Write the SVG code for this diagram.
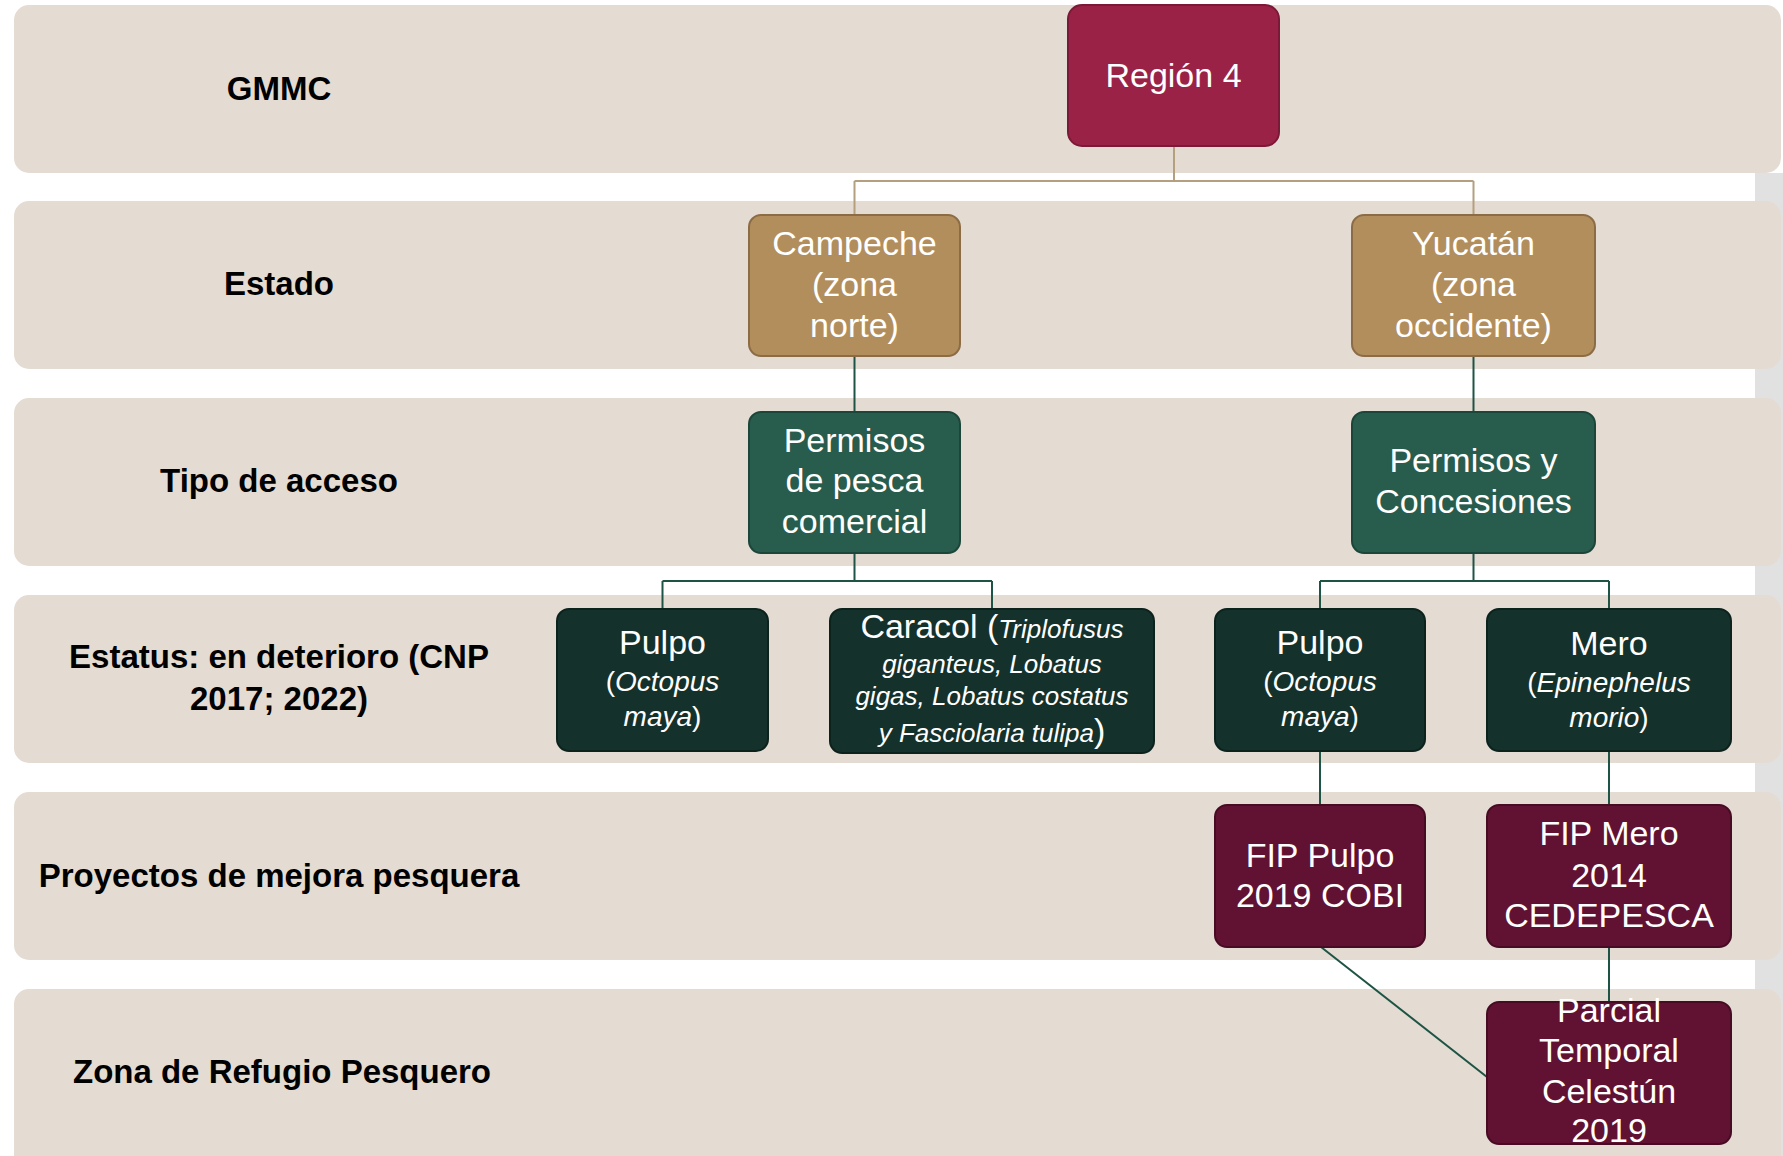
<svg xmlns="http://www.w3.org/2000/svg" width="1783" height="1156" viewBox="0 0 1783 1156">
<style>
.band{fill:#E4DBD2}
.lbl{font-family:"Liberation Sans",Arial,sans-serif;font-weight:bold;font-size:33px;fill:#000;text-anchor:middle}
.t{font-family:"Liberation Sans",Arial,sans-serif;font-size:34px;fill:#fff;text-anchor:middle}
.t.s28,.s28{font-size:28px}
.t.s26,.s26{font-size:26px}
.i{font-style:italic}
.reg{fill:#9B2247;stroke:#7A1A38;stroke-width:2}
.tan{fill:#B28E5C;stroke:#8C6C44;stroke-width:2}
.grn{fill:#285C4D;stroke:#1C463A;stroke-width:2}
.dk{fill:#15312B;stroke:#0C221D;stroke-width:2}
.gd{fill:#611232;stroke:#470B23;stroke-width:2}
.ct{fill:none;stroke:#B4A07F;stroke-width:2}
.cg{fill:none;stroke:#1E5445;stroke-width:2}
</style>
<rect x="0" y="0" width="1783" height="1156" fill="#fff"/>
<rect x="1755" y="173" width="28" height="983" fill="#E1E1E1"/>
<g id="bands">
<rect class="band" x="14" y="5" width="1767" height="168" rx="15"/>
<rect class="band" x="14" y="201" width="1767" height="168" rx="15"/>
<rect class="band" x="14" y="398" width="1767" height="168" rx="15"/>
<rect class="band" x="14" y="595" width="1767" height="168" rx="15"/>
<rect class="band" x="14" y="792" width="1767" height="168" rx="15"/>
<rect class="band" x="14" y="989" width="1767" height="180" rx="15"/>
</g>
<g id="labels">
<text class="lbl" x="279" y="100">GMMC</text>
<text class="lbl" x="279" y="295">Estado</text>
<text class="lbl" x="279" y="492">Tipo de acceso</text>
<text class="lbl" x="279" y="668">Estatus: en deterioro (CNP</text>
<text class="lbl" x="279" y="710">2017; 2022)</text>
<text class="lbl" x="279" y="887">Proyectos de mejora pesquera</text>
<text class="lbl" x="282" y="1083">Zona de Refugio Pesquero</text>
</g>
<g id="connectors">
<path class="ct" d="M1174 146V181M854.5 181H1473.5M854.5 181V215M1473.5 181V215"/>
<path class="cg" d="M854.5 356V412M1473.5 356V412"/>
<path class="cg" d="M854.5 553V581M662.5 581H992M662.5 581V609M992 581V609"/>
<path class="cg" d="M1473.5 553V581M1320 581H1609M1320 581V609M1609 581V609"/>
<path class="cg" d="M1320 751V805M1609 751V805M1609 947V1002M1321 947L1487 1077"/>
</g>
<g id="region4">
<rect class="reg" x="1068" y="5" width="211" height="141" rx="14"/>
<text class="t" x="1173.5" y="87">Región 4</text>
</g>
<g id="campeche">
<rect class="tan" x="749" y="215" width="211" height="141" rx="12"/>
<text class="t" x="854.5" y="255">Campeche</text>
<text class="t" x="854.5" y="296">(zona</text>
<text class="t" x="854.5" y="337">norte)</text>
</g>
<g id="yucatan">
<rect class="tan" x="1352" y="215" width="243" height="141" rx="12"/>
<text class="t" x="1473.5" y="255">Yucatán</text>
<text class="t" x="1473.5" y="296">(zona</text>
<text class="t" x="1473.5" y="337">occidente)</text>
</g>
<g id="permisos-pesca">
<rect class="grn" x="749" y="412" width="211" height="141" rx="12"/>
<text class="t" x="854.5" y="452">Permisos</text>
<text class="t" x="854.5" y="492">de pesca</text>
<text class="t" x="854.5" y="533">comercial</text>
</g>
<g id="permisos-concesiones">
<rect class="grn" x="1352" y="412" width="243" height="141" rx="12"/>
<text class="t" x="1473.5" y="472">Permisos y</text>
<text class="t" x="1473.5" y="513">Concesiones</text>
</g>
<g id="pulpo-campeche">
<rect class="dk" x="557" y="609" width="211" height="142" rx="12"/>
<text class="t" x="662.5" y="654">Pulpo</text>
<text class="t s28" x="662.5" y="691">(<tspan class="i">Octopus</tspan></text>
<text class="t s28" x="662.5" y="726"><tspan class="i">maya</tspan>)</text>
</g>
<g id="caracol">
<rect class="dk" x="830" y="609" width="324" height="144" rx="12"/>
<text class="t" x="992" y="638">Caracol (<tspan class="i s26">Triplofusus</tspan></text>
<text class="t i s26" x="992" y="673">giganteus, Lobatus</text>
<text class="t i s26" x="992" y="705">gigas, Lobatus costatus</text>
<text class="t" x="992" y="742"><tspan class="i s26">y Fasciolaria tulipa</tspan>)</text>
</g>
<g id="pulpo-yucatan">
<rect class="dk" x="1215" y="609" width="210" height="142" rx="12"/>
<text class="t" x="1320" y="654">Pulpo</text>
<text class="t s28" x="1320" y="691">(<tspan class="i">Octopus</tspan></text>
<text class="t s28" x="1320" y="726"><tspan class="i">maya</tspan>)</text>
</g>
<g id="mero">
<rect class="dk" x="1487" y="609" width="244" height="142" rx="12"/>
<text class="t" x="1609" y="655">Mero</text>
<text class="t s28" x="1609" y="692">(<tspan class="i">Epinephelus</tspan></text>
<text class="t s28" x="1609" y="727"><tspan class="i">morio</tspan>)</text>
</g>
<g id="fip-pulpo">
<rect class="gd" x="1215" y="805" width="210" height="142" rx="12"/>
<text class="t" x="1320" y="867">FIP Pulpo</text>
<text class="t" x="1320" y="907">2019 COBI</text>
</g>
<g id="fip-mero">
<rect class="gd" x="1487" y="805" width="244" height="142" rx="12"/>
<text class="t" x="1609" y="845">FIP Mero</text>
<text class="t" x="1609" y="887">2014</text>
<text class="t" x="1609" y="927">CEDEPESCA</text>
</g>
<g id="parcial">
<rect class="gd" x="1487" y="1002" width="244" height="142" rx="12"/>
<text class="t" x="1609" y="1022">Parcial</text>
<text class="t" x="1609" y="1062">Temporal</text>
<text class="t" x="1609" y="1103">Celestún</text>
<text class="t" x="1609" y="1142">2019</text>
</g>
</svg>
